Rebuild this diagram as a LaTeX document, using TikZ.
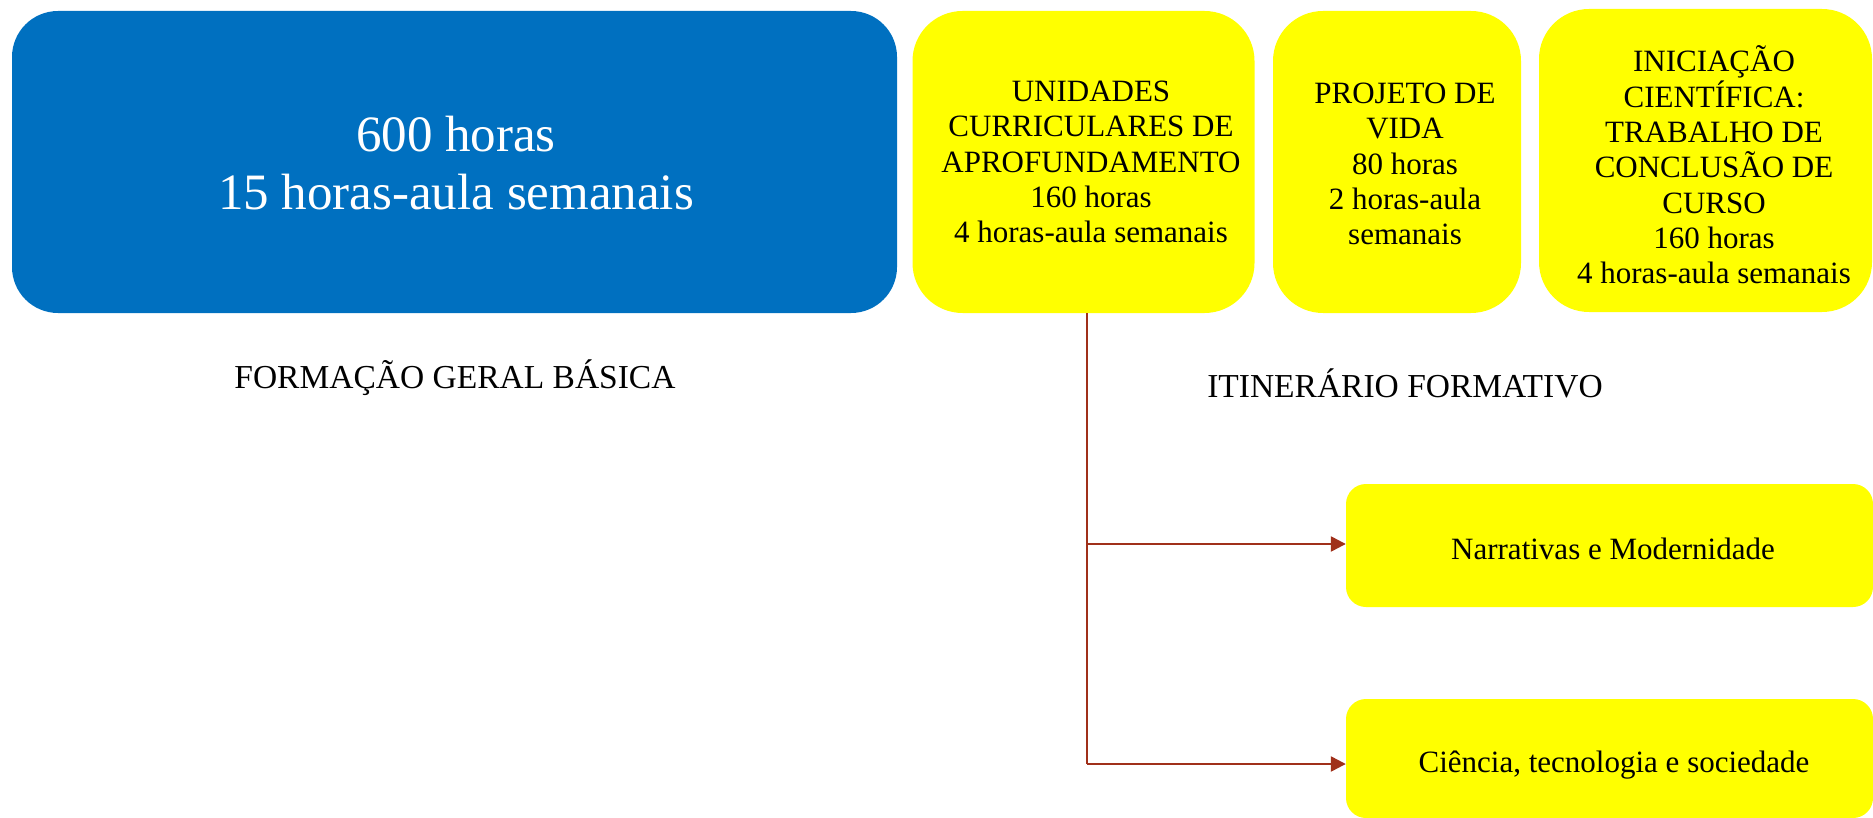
\documentclass[tikz,border=0pt]{standalone}
\usepackage{fontspec}
\setmainfont{Liberation Serif}
\usetikzlibrary{arrows.meta}
\definecolor{fgbblue}{RGB}{0,112,192}
\definecolor{ifyellow}{RGB}{255,255,0}
\definecolor{linkred}{RGB}{160,48,26}
\tikzset{
  bluebox/.style={fill=fgbblue, draw=none, rounded corners=46pt, inner sep=0pt},
  yelbox/.style={fill=ifyellow, draw=none, rounded corners=50pt, inner sep=0pt},
  smallyel/.style={fill=ifyellow, draw=none, rounded corners=20pt, inner sep=0pt},
  bigtxt/.style={align=center, text=white, font=\fontsize{51}{58.5}\selectfont, inner sep=0pt},
  yeltxt/.style={align=center, text=black, font=\fontsize{31}{35.3}\selectfont, inner sep=0pt},
  labtxt/.style={text=black, font=\fontsize{33.5}{38}\selectfont, inner sep=0pt},
  link/.style={draw=linkred, line width=2.4pt},
  trunkline/.style={draw=linkred, line width=2pt},
  linkarrow/.style={link, -{Triangle[length=15pt,width=15pt]}}
}
\begin{document}
\begin{tikzpicture}[x=1pt,y=-1pt]
\useasboundingbox (0,0) rectangle (1873,818);
% top boxes
\node[bluebox, minimum width=885pt, minimum height=302pt] (fgb) at (454.5,162) {};
\node[bigtxt] (fgbt) at (456,163) {600 horas\\15 horas-aula semanais};
\node[yelbox, minimum width=342pt, minimum height=302pt] (uc) at (1083.5,162) {};
\node[yeltxt] (uct) at (1091,162) {UNIDADES\\CURRICULARES DE\\APROFUNDAMENTO\\160 horas\\4 horas-aula semanais};
\node[yelbox, minimum width=248pt, minimum height=302pt] (pv) at (1397,162) {};
\node[yeltxt] (pvt) at (1405,164) {PROJETO DE\\VIDA\\80 horas\\2 horas-aula\\semanais};
\node[yelbox, minimum width=333pt, minimum height=303pt] (ic) at (1705.5,160.5) {};
\node[yeltxt] (ict) at (1714,165) {INICIAÇÃO\\CIENTÍFICA:\\TRABALHO DE\\CONCLUSÃO DE\\CURSO\\160 horas\\4 horas-aula semanais};
% labels
\node[labtxt] (fgbl) at (455,378) {FORMAÇÃO GERAL BÁSICA};
\node[labtxt] (ifl) at (1405,383) {ITINERÁRIO FORMATIVO};
% lower boxes
\node[smallyel, minimum width=527pt, minimum height=123pt] (narr) at (1609.5,545.5) {};
\node[yeltxt] (narrt) at (1613,549) {Narrativas e Modernidade};
\node[smallyel, minimum width=527pt, minimum height=119pt] (cien) at (1609.5,758.5) {};
\node[yeltxt] (cient) at (1614,765) {Ciência, tecnologia e sociedade};
% connectors
\coordinate (j1) at (1087,544);
\coordinate (j2) at (1087,764);
\draw[trunkline] (uc.south -| j1) -- (j2);
\draw[linkarrow] (j1) -- (j1 -| narr.west);
\draw[linkarrow] (j2) -- (j2 -| cien.west);
\end{tikzpicture}
\end{document}
